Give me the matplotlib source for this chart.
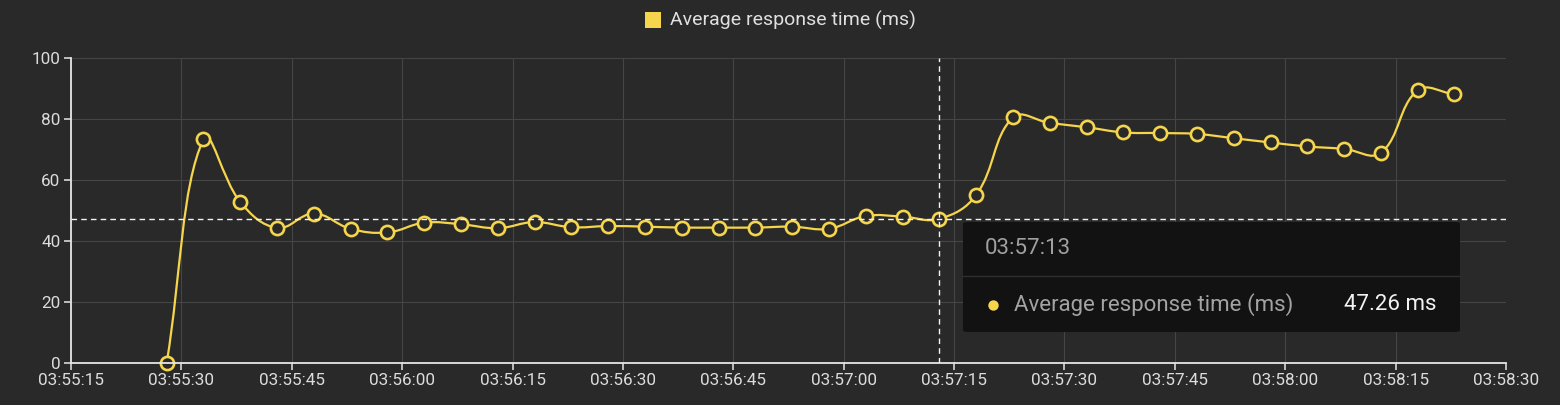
import numpy as np
import matplotlib
matplotlib.use("Agg")
import matplotlib.pyplot as plt
from matplotlib.path import Path
from matplotlib.patches import PathPatch, FancyBboxPatch, Rectangle
from matplotlib.ticker import FixedLocator, FuncFormatter

plt.rcParams['font.family'] = ['Roboto', 'DejaVu Sans']

# data
times = ["03:55:28", "03:55:33", "03:55:38", "03:55:43", "03:55:48", "03:55:53", "03:55:58",
         "03:56:03", "03:56:08", "03:56:13", "03:56:18", "03:56:23", "03:56:28", "03:56:33",
         "03:56:38", "03:56:43", "03:56:48", "03:56:53", "03:56:58", "03:57:03", "03:57:08",
         "03:57:13", "03:57:18", "03:57:23", "03:57:28", "03:57:33", "03:57:38", "03:57:43",
         "03:57:48", "03:57:53", "03:57:58", "03:58:03", "03:58:08", "03:58:13", "03:58:18",
         "03:58:23"]
avg_ms = [0, 73.4, 52.8, 44.3, 49.0, 44.0, 42.8, 46.0, 45.5, 44.2, 46.2, 44.5, 44.9, 44.7,
          44.4, 44.4, 44.4, 44.7, 44.0, 48.2, 48.0, 47.26, 55.1, 80.5, 78.7, 77.3, 75.6, 75.4,
          75.1, 73.7, 72.3, 71.0, 70.2, 68.9, 89.4, 88.1]
x_ticks = ["03:55:15", "03:55:30", "03:55:45", "03:56:00", "03:56:15", "03:56:30", "03:56:45",
           "03:57:00", "03:57:15", "03:57:30", "03:57:45", "03:58:00", "03:58:15", "03:58:30"]
y_ticks = [0, 20, 40, 60, 80, 100]
hover_time = "03:57:13"
hover_value = 47.26
series_name = "Average response time (ms)"

BG = '#292929'
YELLOW = '#f5d54c'
W, H = 1560, 405


def secs(s):
    h, m, sec = [int(p) for p in s.split(":")]
    return h * 3600 + m * 60 + sec


def fmt(v, pos=None):
    v = int(round(v))
    return "%02d:%02d:%02d" % (v // 3600, (v % 3600) // 60, v % 60)


def fx(px):
    return px / W


def fy(py):
    return 1 - py / H


xs = np.array([secs(t) for t in times], dtype=float)
ys = np.array(avg_ms, dtype=float)
tick_s = [secs(t) for t in x_ticks]

fig = plt.figure(figsize=(W / 100, H / 100), dpi=100, facecolor=BG)
ax = fig.add_axes([fx(71), fy(363), (1506 - 71) / W, (363 - 58) / H])
ax.set_facecolor(BG)
ax.set_xlim(tick_s[0], tick_s[-1])
ax.set_ylim(0, 100)

ax.xaxis.set_major_locator(FixedLocator(tick_s))
ax.xaxis.set_major_formatter(FuncFormatter(fmt))
ax.set_yticks(y_ticks)
ax.grid(True, color='#454545', lw=0.8, zorder=1)
ax.set_axisbelow(True)
for s in ['top', 'right']:
    ax.spines[s].set_visible(False)
for s in ['left', 'bottom']:
    ax.spines[s].set_color('#e6e6e6')
    ax.spines[s].set_linewidth(1.3)
    ax.spines[s].set_zorder(2.5)
ax.tick_params(colors='#e6e6e6', labelcolor='#dcdcdc', labelsize=12.3, length=5, width=1.1, pad=2.5)

# smooth line like chart.js (tension 0.4), control points in pixel space
pts = ax.transData.transform(np.column_stack([xs, ys]))
n = len(pts)
ctrl_in = np.zeros_like(pts)
ctrl_out = np.zeros_like(pts)
t = 0.4
for i in range(n):
    prev = pts[i - 1] if i > 0 else pts[i]
    nxt = pts[i + 1] if i < n - 1 else pts[i]
    d01 = np.hypot(*(pts[i] - prev))
    d12 = np.hypot(*(nxt - pts[i]))
    tot = d01 + d12
    s01 = d01 / tot if tot else 0
    s12 = d12 / tot if tot else 0
    ctrl_in[i] = pts[i] - t * s01 * (nxt - prev)
    ctrl_out[i] = pts[i] + t * s12 * (nxt - prev)
verts = [pts[0]]
codes = [Path.MOVETO]
for i in range(1, n):
    verts += [ctrl_out[i - 1], ctrl_in[i], pts[i]]
    codes += [Path.CURVE4] * 3
verts = ax.transData.inverted().transform(np.array(verts))
ax.add_patch(PathPatch(Path(verts, codes), fill=False, edgecolor=YELLOW, lw=1.6, zorder=2.2))
ax.plot(xs, ys, ls='none', marker='o', ms=9.5, mfc=BG, mec=YELLOW, mew=1.9, zorder=2.3, clip_on=False)

# hover crosshair
ax.axhline(hover_value, color='#f2f2f2', lw=1, ls=(0, (4, 3)), zorder=5)
ax.axvline(secs(hover_time), color='#f2f2f2', lw=1, ls=(0, (4, 3)), zorder=5)

# legend
fig.add_artist(Rectangle((fx(645), fy(28)), fx(16), 16 / H, transform=fig.transFigure,
                         facecolor=YELLOW, edgecolor='none'))
fig.text(fx(670), fy(20), series_name, color='#e0e0e0', fontsize=14, va='center', ha='left')

# tooltip
fig.add_artist(FancyBboxPatch((fx(963), fy(332)), fx(1460 - 963), (332 - 222) / H,
                              boxstyle="round,pad=0,rounding_size=0.004",
                              transform=fig.transFigure, facecolor='#121212',
                              edgecolor='none', zorder=10))
fig.add_artist(plt.Line2D([fx(963), fx(1460)], [fy(276), fy(276)], transform=fig.transFigure,
                          color='#2f2f2f', lw=1, zorder=11))
fig.text(fx(985), fy(248), hover_time, color='#a0a0a0', fontsize=16, va='center', ha='left', zorder=12)
fig.add_artist(plt.Line2D([fx(993)], [fy(305)], transform=fig.transFigure, ls='none', marker='o',
                          ms=7.5, mfc=YELLOW, mec='none', zorder=12))
fig.text(fx(1014), fy(305), series_name, color='#a3a3a3', fontsize=16, va='center', ha='left', zorder=12)
fig.text(fx(1437), fy(305), "%.2f ms" % hover_value, color='#f2f2f2', fontsize=16,
         va='center', ha='right', zorder=12)

fig.savefig("out.png", dpi=100, facecolor=BG)
